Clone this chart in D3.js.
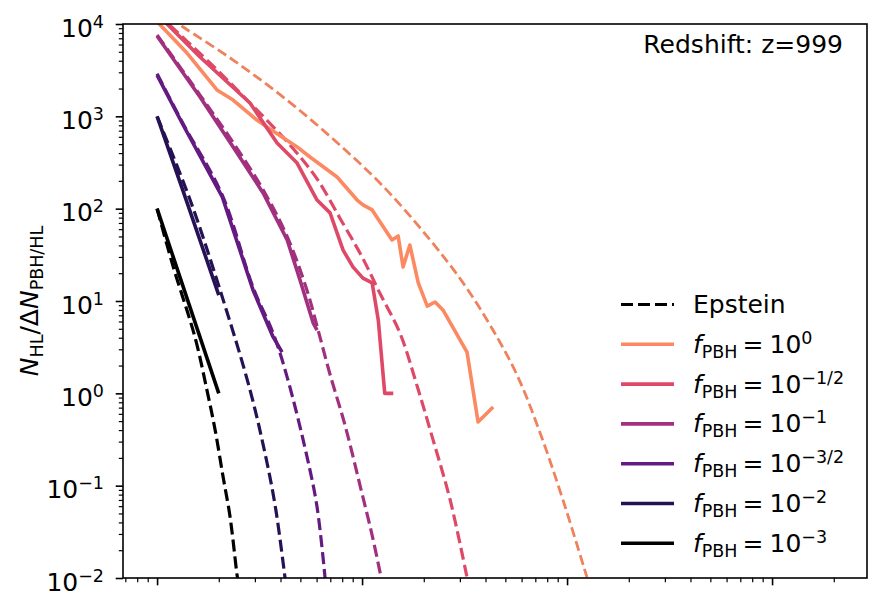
<!DOCTYPE html>
<html>
<head>
<meta charset="utf-8">
<script src="https://cdn.jsdelivr.net/npm/d3@7"></script>
<style>
    body { margin: 0; background: #fff; }
    text { font-family: "DejaVu Sans", sans-serif; fill: #000; }
</style>
</head>
<body>
<svg id="svg_hl"></svg>
<script>
// halo counts from the simulation, [mass, N_HL/dN], one list per f_PBH
let simF0 = [[1, 10600], [1.40, 4850], [1.96, 1930], [2.35, 1500], [3.07, 912], [3.44, 765], [4.82, 466],
    [5.57, 363], [7.55, 220], [9.46, 124], [10.1, 110], [11.2, 97], [14.0, 45.8], [15.0, 50.6], [15.85, 23.3],
    [17.1, 40.4], [18.8, 15.7], [20.8, 8.8], [22.7, 9.75], [24.8, 8.0], [32.5, 2.8], [36.8, 0.49], [43.6, 0.71]];
let simF05 = [[1, 12800], [1.157, 9270], [1.62, 4390], [2.84, 1393], [3.85, 514], [4.82, 312], [6.03, 124],
    [6.98, 90], [8.08, 35.6], [9.04, 23.3], [10.1, 17.7], [11.2, 15.7], [12.0, 6.2], [12.9, 1.0], [14.2, 1.0]];
let simF1 = [[1, 7400], [1.62, 1622], [2.35, 466], [3.29, 148], [3.85, 75], [4.31, 46], [4.98, 16.9],
    [5.77, 5.8], [6.03, 4.85]];
let simF15 = [[1, 2800], [1.34, 805], [2.08, 134], [2.94, 13.1], [3.68, 4.08], [4.07, 2.8]];
let simF2 = [[1, 1000], [1.34, 155], [2, 11.6]];
let simF3 = [[1, 100], [2, 1]];

// Epstein prediction for each f_PBH (dashed)
let epsF0 = [[1, 14200], [1.339, 9270], [2.35, 4070], [4.12, 1618], [7.22, 568], [12.63, 176], [21.5, 45.7],
    [31.1, 15.7], [42.1, 5.49], [57, 1.58], [73.9, 0.372], [95.5, 0.07], [125, 0.0102]];
let epsF05 = [[1, 13000], [1.81, 3790], [2.84, 1393], [4.45, 490], [6.03, 210], [7.9, 75], [10, 30],
    [12.2, 12.2], [15.3, 4.5], [18.5, 1.23], [22.2, 0.313], [26.9, 0.07], [32.5, 0.0102]];
let epsF1 = [[1, 7600], [1.62, 1700], [2.35, 520], [3.29, 160], [4.31, 50], [5.39, 13], [6.1, 4.85],
    [6.98, 1.6], [8.26, 0.45], [9.77, 0.101], [11.2, 0.029], [12.4, 0.01]];
let epsF15 = [[1, 2900], [1.34, 830], [2.08, 140], [2.94, 14], [3.68, 4.5], [4.31, 1.5], [5.39, 0.205],
    [6.03, 0.059], [6.6, 0.01]];
let epsF2 = [[1, 1000], [1.45, 124], [2.03, 13.1], [2.84, 1.09], [3.44, 0.176], [3.8, 0.054], [4.21, 0.01]];
let epsF3 = [[1, 100], [1.2, 23.3], [1.53, 4.07], [1.75, 1.09], [1.92, 0.40], [2.1, 0.124], [2.27, 0.046],
    [2.45, 0.0112], [2.47, 0.01]];

let fExponents = ["0", "\u22121/2", "\u22121", "\u22123/2", "\u22122", "\u22123"];
let magmaPos = [0.75, 0.6, 0.45, 0.3, 0.15, 0];
let yTickPowers = [-2, -1, 0, 1, 2, 3, 4];
let xMajorTicks = [1, 10, 100, 1000];
let redshiftLabel = "Redshift: z=999";

let simSeries = [simF0, simF05, simF1, simF15, simF2, simF3];
let epsSeries = [epsF0, epsF05, epsF1, epsF15, epsF2, epsF3];

let chartWidth = 890;
let chartHeight = 610;
let plotLeft = 123, plotTop = 24, plotRight = 867, plotBottom = 578;
let fontSize = 25;
let smallSize = 17.5;

let svg = d3.select("#svg_hl")
    .attr("width", chartWidth)
    .attr("height", chartHeight);

let x = d3.scaleLog().domain([0.682, 2905]).range([plotLeft, plotRight]);
let y = d3.scaleLog().domain([1e-2, 1e4]).range([plotBottom, plotTop]);

let colorOf = i => magmaPos[i] === 0 ? "#000000" : d3.interpolateMagma(magmaPos[i]);

svg.append("clipPath").attr("id", "plotClip")
    .append("rect")
    .attr("x", plotLeft).attr("y", plotTop)
    .attr("width", plotRight - plotLeft).attr("height", plotBottom - plotTop);

let plot = svg.append("g").attr("clip-path", "url(#plotClip)");

let smoothLine = d3.line().x(d => x(d[0])).y(d => y(d[1])).curve(d3.curveCatmullRom.alpha(0.5));
let rawLine = d3.line().x(d => x(d[0])).y(d => y(d[1]));

// dashed theory curves under the simulation lines
plot.selectAll(".eps")
    .data(epsSeries)
    .enter().append("path")
    .attr("class", "eps")
    .attr("d", smoothLine)
    .attr("fill", "none")
    .attr("stroke", (d, i) => i === 0 ? d3.color(colorOf(i)).darker(0.15) : colorOf(i))
    .attr("stroke-width", (d, i) => i === 0 ? 2.8 : 3.2)
    .attr("stroke-dasharray", (d, i) => i === 0 ? "10,4.5" : "12,5");

plot.selectAll(".sim")
    .data(simSeries)
    .enter().append("path")
    .attr("class", "sim")
    .attr("d", rawLine)
    .attr("fill", "none")
    .attr("stroke", (d, i) => colorOf(i))
    .attr("stroke-width", 3.6)
    .attr("stroke-linejoin", "round");

// ticks
let yMinor = [];
yTickPowers.slice(0, -1).forEach(p => d3.range(2, 10).forEach(k => yMinor.push(k * Math.pow(10, p))));
let xMinor = [];
[-1, 0, 1, 2, 3].forEach(p => d3.range(2, 10).forEach(k => {
    let v = k * Math.pow(10, p);
    if (v > x.domain()[0] && v < x.domain()[1]) xMinor.push(v);
}));

let axisStyle = g => {
    g.select(".domain").remove();
    g.selectAll("line").attr("stroke", "#000");
    g.selectAll("text").remove();
};

svg.append("g").attr("transform", `translate(${plotLeft},0)`)
    .call(d3.axisLeft(y).tickValues(yTickPowers.map(p => Math.pow(10, p))).tickSize(7.3))
    .call(axisStyle).selectAll("line").attr("stroke-width", 1.6);
svg.append("g").attr("transform", `translate(${plotLeft},0)`)
    .call(d3.axisLeft(y).tickValues(yMinor).tickSize(4.2))
    .call(axisStyle).selectAll("line").attr("stroke-width", 1.2);
svg.append("g").attr("transform", `translate(0,${plotBottom})`)
    .call(d3.axisBottom(x).tickValues(xMajorTicks).tickSize(7.3))
    .call(axisStyle).selectAll("line").attr("stroke-width", 1.6);
svg.append("g").attr("transform", `translate(0,${plotBottom})`)
    .call(d3.axisBottom(x).tickValues(xMinor).tickSize(4.2))
    .call(axisStyle).selectAll("line").attr("stroke-width", 1.2);

// y tick labels as 10^n
yTickPowers.forEach(p => {
    let t = svg.append("text")
        .attr("x", 104)
        .attr("y", y(Math.pow(10, p)) + 12.5)
        .attr("text-anchor", "end")
        .style("font-size", fontSize + "px");
    t.append("tspan").text("10");
    t.append("tspan").attr("dy", -9).style("font-size", smallSize + "px")
        .text(p < 0 ? "\u2212" + (-p) : String(p));
});

// frame on top
svg.append("rect")
    .attr("x", plotLeft).attr("y", plotTop)
    .attr("width", plotRight - plotLeft).attr("height", plotBottom - plotTop)
    .attr("fill", "none").attr("stroke", "#000").attr("stroke-width", 1.6);

// y label
let ylab = svg.append("text")
    .attr("transform", "translate(38,301) rotate(-90)")
    .attr("text-anchor", "middle")
    .style("font-size", fontSize + "px");
ylab.append("tspan").style("font-style", "italic").text("N");
ylab.append("tspan").attr("dy", 5).style("font-size", smallSize + "px").text("HL");
ylab.append("tspan").attr("dy", -5).text("/\u0394");
ylab.append("tspan").style("font-style", "italic").text("N");
ylab.append("tspan").attr("dy", 5).style("font-size", smallSize + "px").text("PBH/HL");

svg.append("text")
    .attr("x", 843).attr("y", 53)
    .attr("text-anchor", "end")
    .style("font-size", fontSize + "px")
    .text(redshiftLabel);

// legend
let legendTop = 304.5, legendStep = 39.8;
let legend = svg.append("g");
legend.append("line")
    .attr("x1", 621).attr("x2", 674)
    .attr("y1", legendTop).attr("y2", legendTop)
    .attr("stroke", "#000").attr("stroke-width", 3.2).attr("stroke-dasharray", "12,5");
legend.append("text")
    .attr("x", 693).attr("y", legendTop + 8.5)
    .style("font-size", fontSize + "px")
    .text("Epstein");

fExponents.forEach((e, i) => {
    let cy = legendTop + (i + 1) * legendStep;
    legend.append("line")
        .attr("x1", 621).attr("x2", 674)
        .attr("y1", cy).attr("y2", cy)
        .attr("stroke", colorOf(i)).attr("stroke-width", 3.6);
    let t = legend.append("text")
        .attr("x", 693).attr("y", cy + 8.5)
        .style("font-size", fontSize + "px");
    t.append("tspan").style("font-style", "italic").text("f");
    t.append("tspan").attr("dy", 5).style("font-size", smallSize + "px").text("PBH");
    t.append("tspan").attr("dy", -5).attr("dx", 5).text("=");
    t.append("tspan").attr("dx", 6).text("10");
    t.append("tspan").attr("dy", -9).style("font-size", smallSize + "px").text(e);
});
</script>
</body>
</html>
